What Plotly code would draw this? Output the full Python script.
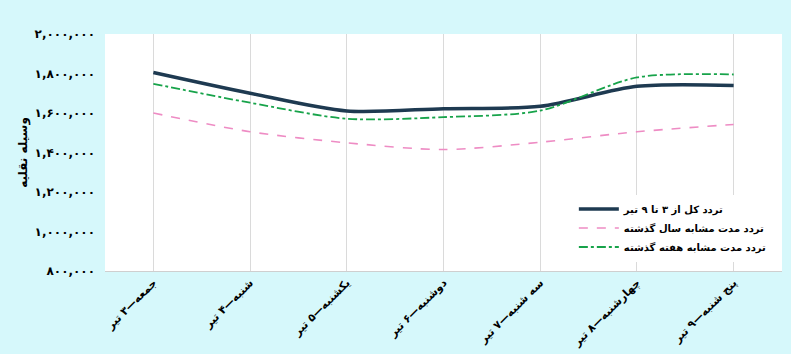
import plotly.graph_objects as go

categories = ["جمعه—۳ تیر", "شنبه—۴ تیر", "یکشنبه—۵ تیر", "دوشنبه—۶ تیر",
              "سه شنبه—۷ تیر", "چهارشنبه—۸ تیر", "پنج شنبه—۹ تیر"]
total_this_week = [1805000, 1700000, 1610000, 1622000, 1634000, 1735000, 1739000]
same_period_last_year = [1600000, 1505000, 1449000, 1415000, 1452000, 1505000, 1542000]
same_period_last_week = [1748000, 1652000, 1571000, 1579000, 1612000, 1780000, 1795000]
series_names = ["تردد کل از ۳ تا ۹ تیر", "تردد مدت مشابه سال گذشته", "تردد مدت مشابه هفته گذشته"]
y_tickvals = [800000, 1000000, 1200000, 1400000, 1600000, 1800000, 2000000]
y_ticktext = ["۸۰۰,۰۰۰", "۱,۰۰۰,۰۰۰", "۱,۲۰۰,۰۰۰", "۱,۴۰۰,۰۰۰", "۱,۶۰۰,۰۰۰", "۱,۸۰۰,۰۰۰", "۲,۰۰۰,۰۰۰"]
y_title = "وسیله نقلیه"

x = list(range(len(categories)))
fig = go.Figure()
fig.add_trace(go.Scatter(x=x, y=total_this_week, name="<b>%s</b>" % series_names[0], mode="lines",
                         line=dict(color="#1E3A51", width=3.5, shape="spline", smoothing=0.8)))
fig.add_trace(go.Scatter(x=x, y=same_period_last_year, name="<b>%s</b>" % series_names[1], mode="lines",
                         line=dict(color="#EE8CC4", width=1.6, dash="dash", shape="spline", smoothing=0.8)))
fig.add_trace(go.Scatter(x=x, y=same_period_last_week, name="<b>%s</b>" % series_names[2], mode="lines",
                         line=dict(color="#17A34A", width=1.8, dash="dashdot", shape="spline", smoothing=0.8)))

fig.update_layout(
    width=791, height=354,
    margin=dict(l=105, r=9, t=34, b=83),
    paper_bgcolor="#D6F8FB", plot_bgcolor="white",
    font=dict(family="DejaVu Sans", color="black", size=10),
    legend=dict(x=0.985, y=0.04, xanchor="right", yanchor="bottom",
                bgcolor="white", font=dict(size=10, family="DejaVu Sans"),
                tracegroupgap=0, itemwidth=40),
    xaxis=dict(tickmode="array", tickvals=x, ticktext=["<b>%s</b>" % c for c in categories],
               range=[-0.5, 6.5], tickangle=-45, showgrid=True, gridcolor="#DADADA", gridwidth=1,
               showline=True, linecolor="#CFCFCF", linewidth=1, zeroline=False,
               tickfont=dict(size=11), automargin=False),
    yaxis=dict(range=[800000, 2000000], tickmode="array", tickvals=y_tickvals,
               ticktext=["<b>%s</b>" % t for t in y_ticktext], showgrid=False, zeroline=False,
               tickfont=dict(size=12), ticklabelstandoff=9, automargin=False,
               title=dict(text="<b>%s</b>" % y_title, font=dict(size=12), standoff=4)),
)
fig.write_html("out.html")
